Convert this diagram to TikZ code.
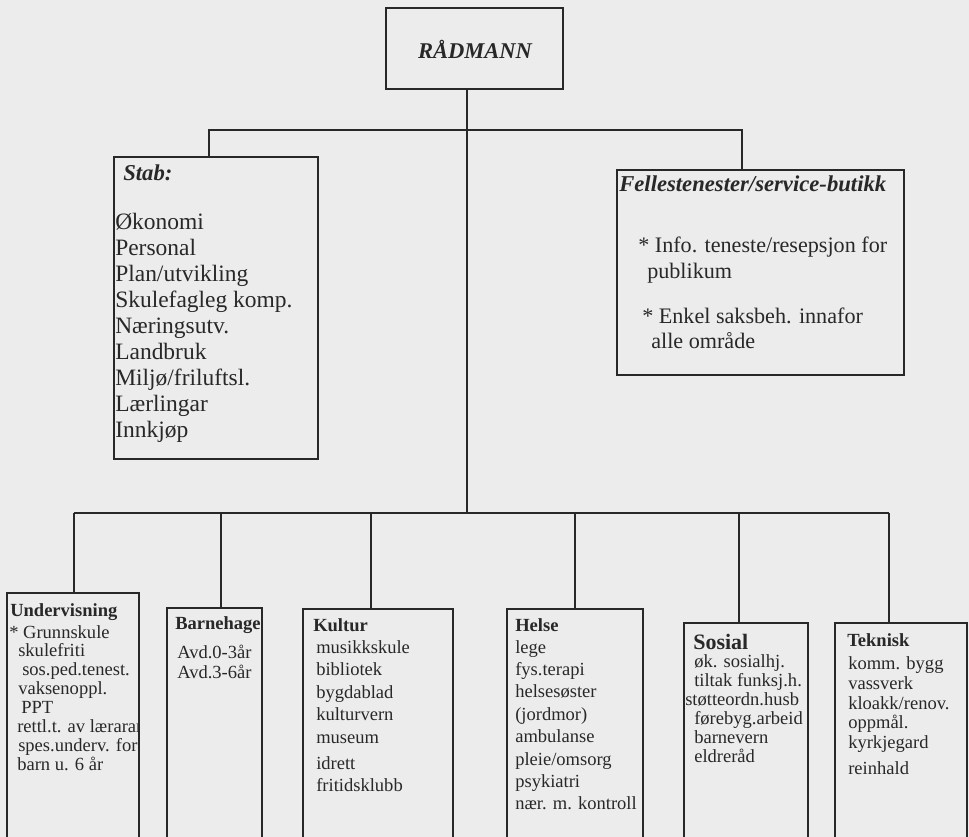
\documentclass[tikz,border=0pt]{standalone}
\usepackage{fontspec}
\setmainfont{Liberation Serif}
\usetikzlibrary{fit}
\definecolor{ink}{RGB}{40,40,40}
\definecolor{paper}{RGB}{236,236,236}
\tikzset{
  orgbox/.style={draw=ink, line width=1pt, inner sep=0pt, outer sep=0pt},
  link/.style={draw=ink, line width=1pt},
  item/.style={anchor=base west, inner sep=0pt, text=ink, font=\fontsize{13.9}{16}\selectfont},
  bigitem/.style={item, font=\fontsize{17.6}{20}\selectfont},
  head/.style={item, font=\fontsize{13.9}{16}\selectfont\bfseries},
  bighead/.style={item, font=\fontsize{17}{20}\selectfont\bfseries\itshape},
}
\begin{document}
\begin{tikzpicture}[x=0.75pt,y=0.75pt,yscale=-1]
\useasboundingbox (0,0) rectangle (969,837);
\clip (0,0) rectangle (969,837);
\fill[paper] (0,0) rectangle (969,837);

% Text Node
\node (radmann) [orgbox, fit={(386,8) (563,89)}] {};
\node (radmann-text) [anchor=base, inner sep=0pt, text=ink, font=\fontsize{16.9}{20}\selectfont\bfseries\itshape] at (475,59) {RÅDMANN};

% Text Node
\node (stab) [orgbox, fit={(114,157) (318,459)}] {};
\node (stab-head) [bighead] at (123,181) {Stab:};
\foreach \t [count=\i from 0] in {Økonomi,Personal,Plan/utvikling,Skulefagleg komp.,Næringsutv.,Landbruk,Miljø/friluftsl.,Lærlingar,Innkjøp}
  \node (stab-\i) [bigitem] at (115,230+25.9*\i) {\t};

% Text Node
\node (felles) [orgbox, fit={(617,170) (904,375)}] {};
\node (felles-head) [bighead] at (619,192) {Fellestenester/service-butikk};
\foreach \x/\y/\t [count=\i] in {638/253/{* Info. teneste/resepsjon for},647/279/publikum,642/324/{* Enkel saksbeh. innafor},651/349/alle område}
  \node (felles-\i) [item, font=\fontsize{16.6}{20}\selectfont] at (\x,\y) {\t};

%Straight Lines
\coordinate (bar-stab) at (209,130);
\coordinate (bar-felles) at (742,130);
\coordinate (trunk) at (467,513);
\draw[link] (radmann.south -| trunk) -- (trunk);
\draw[link] (stab.north -| bar-stab) -- (bar-stab) -- (bar-felles) -- (felles.north -| bar-felles);

% Text Node
\node (under) [orgbox, fit={(7,593) (139,850)}] {};
\node (under-head) [head] at (10,616) {Undervisning};
\begin{scope}
\clip (under.north west) rectangle (under.south east);
\foreach \x/\t [count=\i from 0] in {9/* Grunnskule,18/skulefriti,22/sos.ped.tenest.,18/vaksenoppl.,21/PPT,17/rettl.t. av lærarar,18/spes.underv. for,17/barn u. 6 år}
  \node (under-\i) [item] at (\x,638+18.9*\i) {\t};
\end{scope}

% Text Node
\node (barn) [orgbox, fit={(167,608) (262,850)}] {};
\node (barn-head) [head] at (175,629) {Barnehage};
\node (barn-1) [item] at (177,658) {Avd.0-3år};
\node (barn-2) [item] at (177,678) {Avd.3-6år};

% Text Node
\node (kult) [orgbox, fit={(303,609) (453,850)}] {};
\node (kult-head) [head] at (313,631) {Kultur};
\foreach \y/\t [count=\i] in {653/musikkskule,675.5/bibliotek,698/bygdablad,720.5/kulturvern,743/museum,769/idrett,791/fritidsklubb}
  \node (kult-\i) [item] at (316,\y) {\t};

% Text Node
\node (helse) [orgbox, fit={(507,609) (643,850)}] {};
\node (helse-head) [head] at (515,631) {Helse};
\foreach \t [count=\i from 0] in {lege,fys.terapi,helsesøster,{(jordmor)},ambulanse,pleie/omsorg,psykiatri,nær. m. kontroll}
  \node (helse-\i) [item] at (515,653+22.4*\i) {\t};

% Text Node
\node (sos) [orgbox, fit={(684,623) (808,850)}] {};
\node (sos-head) [head, font=\fontsize{16.5}{20}\selectfont\bfseries] at (693,649) {Sosial};
\foreach \x/\t [count=\i from 0] in {694/øk. sosialhj.,694/tiltak funksj.h.,685/støtteordn.husb,694/førebyg.arbeid,694/barnevern,694/eldreråd}
  \node (sos-\i) [item] at (\x,667+19.1*\i) {\t};

% Text Node
\node (tek) [orgbox, fit={(835,623) (967,850)}] {};
\node (tek-head) [head] at (847,646) {Teknisk};
\foreach \y/\t [count=\i] in {669/komm. bygg,689/vassverk,709/{kloakk/renov.},728/oppmål.,748/kyrkjegard,774/reinhald}
  \node (tek-\i) [item] at (848,\y) {\t};

%Straight Lines
\foreach \n/\x in {under/74,barn/221,kult/371,helse/575,sos/739,tek/889} {
  \coordinate (bar-\n) at (\x,513);
  \draw[link] (bar-\n) -- (bar-\n |- \n.north);
}
\draw[link] (bar-under) -- (bar-tek);
\draw[link] (trunk) -- (trunk |- bar-under);

\end{tikzpicture}
\end{document}
